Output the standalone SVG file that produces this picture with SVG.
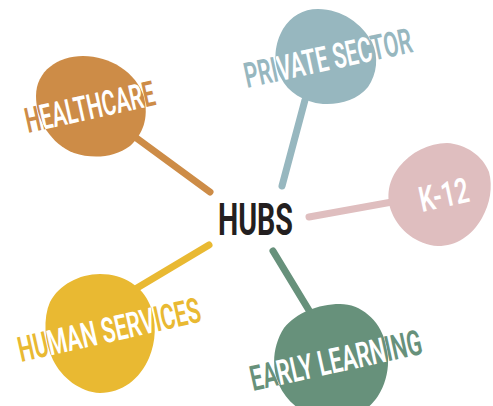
<svg xmlns="http://www.w3.org/2000/svg" xmlns:xlink="http://www.w3.org/1999/xlink" width="493" height="406" viewBox="0 0 493 406">
<style>
text{font-family:"Roboto","Liberation Sans",sans-serif;font-weight:600;font-size:35px}
.c{fill:none;stroke-width:7;stroke-linecap:round}
</style>
<defs>
<path id="b1" d="M83 56C110 56 136 72 144 97C149 118 143 134 130 146C114 158 92 159 74 153C51 144 36 120 36 96C36 71 58 56 83 56Z"/>
<path id="b2" d="M318 9C342 9 362 24 372 42C379 57 377 74 368 87C357 100 340 105 323 104C303 102 288 92 281 78C272 62 275 43 283 29C291 16 303 9 318 9Z"/>
<path id="b3" d="M447 143C466 144 483 156 489 172C493 187 490 204 482 218C472 236 456 246 438 246C417 245 399 230 392 213C385 196 389 180 399 167C411 152 429 143 447 143Z"/>
<path id="b4" d="M100 274C124 274 143 287 150 305C157 322 156 342 149 358C140 379 122 393 100 393C80 392 62 378 53 360C44 342 43 318 50 302C59 285 79 274 100 274Z"/>
<path id="b5" d="M340 304C361 304 379 320 385 341C391 360 388 380 378 396C368 411 352 420 334 420C310 420 288 405 279 385C271 367 273 345 284 328C296 313 318 304 340 304Z"/>
<clipPath id="k1"><use href="#b1"/></clipPath>
<clipPath id="k2"><use href="#b2"/></clipPath>
<clipPath id="k4"><use href="#b4"/></clipPath>
<clipPath id="k5"><use href="#b5"/></clipPath>
</defs>
<g id="connectors">
<line class="c" stroke="#cd8c47" x1="210" y1="192" x2="135" y2="137"/>
<line class="c" stroke="#97b7bf" x1="282" y1="186" x2="305" y2="100"/>
<line class="c" stroke="#dfbebf" x1="309" y1="217" x2="392" y2="202"/>
<line class="c" stroke="#e9b932" x1="209" y1="245" x2="137" y2="288"/>
<line class="c" stroke="#67917b" x1="273" y1="251" x2="310" y2="312"/>
</g>
<g id="healthcare" fill="#cd8c47">
<use href="#b1"/>
<text id="t1" transform="translate(28 133) rotate(-12.4)" textLength="132" lengthAdjust="spacingAndGlyphs">HEALTHCARE</text>
<use href="#t1" fill="#fff" clip-path="url(#k1)"/>
</g>
<g id="private-sector" fill="#97b7bf">
<use href="#b2"/>
<text id="t2" transform="translate(247 88) rotate(-12.2)" textLength="171" lengthAdjust="spacingAndGlyphs">PRIVATE SECTOR</text>
<use href="#t2" fill="#fff" clip-path="url(#k2)"/>
</g>
<g id="k-12" fill="#dfbebf">
<use href="#b3"/>
<text transform="translate(422 212) rotate(-12.2)" fill="#fff" textLength="50" lengthAdjust="spacingAndGlyphs">K-12</text>
</g>
<g id="human-services" fill="#e9b932">
<use href="#b4"/>
<text id="t4" transform="translate(21 362) rotate(-12.6)" textLength="186" lengthAdjust="spacingAndGlyphs">HUMAN SERVICES</text>
<use href="#t4" fill="#fff" clip-path="url(#k4)"/>
</g>
<g id="early-learning" fill="#67917b">
<use href="#b5"/>
<text id="t5" transform="translate(253 391) rotate(-12.4)" textLength="175" lengthAdjust="spacingAndGlyphs">EARLY LEARNING</text>
<use href="#t5" fill="#fff" clip-path="url(#k5)"/>
</g>
<g id="hubs">
<text x="218" y="234.5" fill="#231f20" style="font-size:45px;font-weight:700" textLength="75" lengthAdjust="spacingAndGlyphs">HUBS</text>
</g>
</svg>
